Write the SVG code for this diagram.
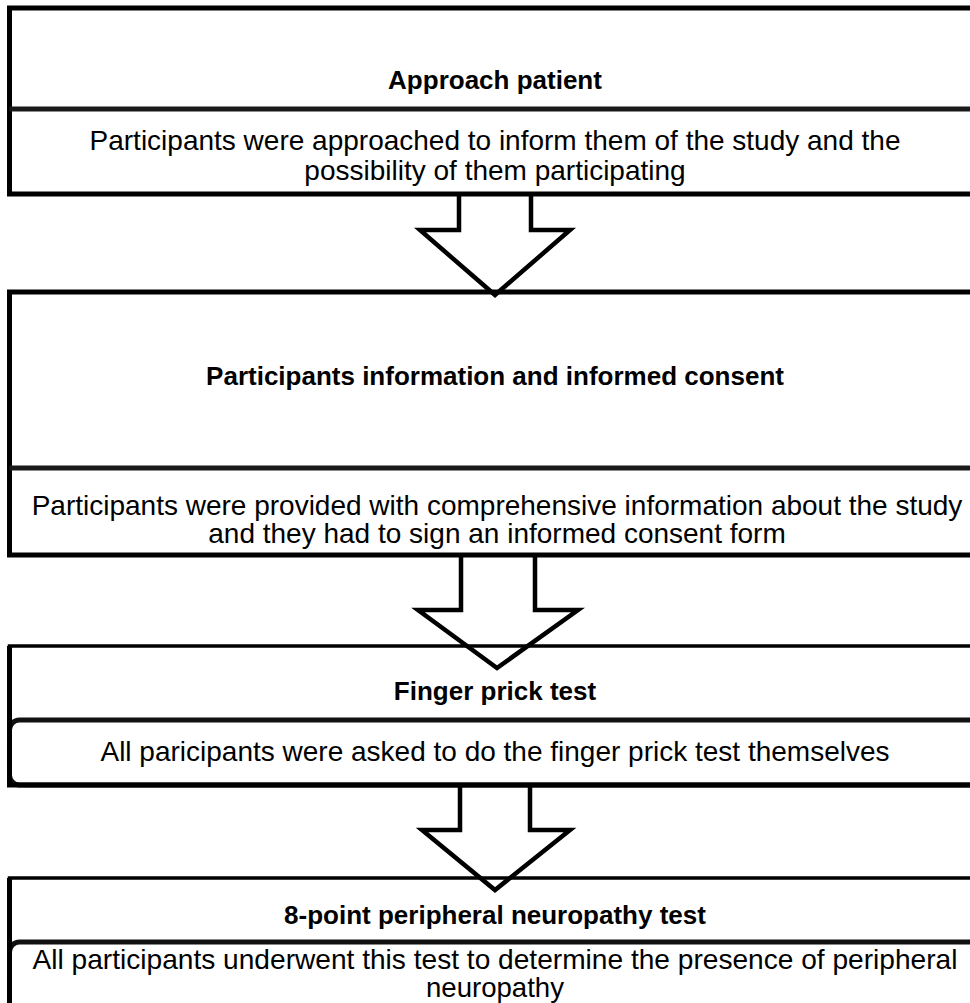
<svg xmlns="http://www.w3.org/2000/svg" width="970" height="1003" viewBox="0 0 970 1003">
<style>
.box{fill:#fff;stroke:#000;stroke-width:5}
.div{fill:none;stroke:#1a1a1a;stroke-width:5}
.inner{fill:#fff;stroke:#111;stroke-width:5}
.edge{stroke:#000;stroke-width:5}
.arrow{fill:none;stroke:#000;stroke-width:4.5;stroke-linejoin:miter}
.t{font-family:"Liberation Sans",Arial,sans-serif;font-weight:bold;font-size:26px;text-anchor:middle;fill:#000}
.b{font-family:"Liberation Sans",Arial,sans-serif;font-size:28px;text-anchor:middle;fill:#000}
</style>
<rect width="970" height="1003" fill="#fff"/>
<g id="node1">
<rect class="box" x="9.5" y="8" width="980" height="186"/>
<line class="div" x1="9.5" y1="109" x2="990" y2="109"/>
<text class="t" x="495" y="89">Approach patient</text>
<text class="b" x="495" y="150">Participants were approached to inform them of the study and the</text>
<text class="b" x="495" y="180">possibility of them participating</text>
</g>
<g id="node2">
<rect class="box" x="9.5" y="292" width="980" height="263"/>
<line class="div" x1="9.5" y1="468" x2="990" y2="468"/>
<text class="t" x="495" y="385">Participants information and informed consent</text>
<text class="b" x="497" y="515">Participants were provided with comprehensive information about the study</text>
<text class="b" x="497" y="543">and they had to sign an informed consent form</text>
</g>
<g id="node3">
<rect class="box" x="9.5" y="646" width="980" height="139" style="stroke-width:3.5"/>
<rect class="inner" x="9.5" y="720" width="980" height="65" rx="10"/>
<line class="edge" x1="9.5" y1="646" x2="9.5" y2="787"/>
<line class="edge" x1="7" y1="785" x2="980" y2="785"/>
<text class="t" x="495" y="700">Finger prick test</text>
<text class="b" x="495" y="761">All paricipants were asked to do the finger prick test themselves</text>
</g>
<g id="node4">
<rect class="box" x="9.5" y="878" width="980" height="140" style="stroke-width:3.5"/>
<rect class="inner" x="9.5" y="942" width="980" height="78" rx="10"/>
<line class="edge" x1="9.5" y1="878" x2="9.5" y2="1010"/>
<text class="t" x="495" y="924">8-point peripheral neuropathy test</text>
<text class="b" x="495" y="969" font-size="25" textLength="925" lengthAdjust="spacingAndGlyphs">All participants underwent this test to determine the presence of peripheral</text>
<text class="b" x="495" y="997" font-size="25" textLength="138" lengthAdjust="spacingAndGlyphs">neuropathy</text>
</g>
<g id="connectors">
<polyline class="arrow" points="459,194 459,230 420,230 495,295 570,230 531,230 531,194"/>
<polyline class="arrow" points="461,555 461,610 418,610 497,668 578,610 535,610 535,555"/>
<polyline class="arrow" points="460,785 460,830 422,830 495,890 570,830 530,830 530,785"/>
</g>
</svg>
